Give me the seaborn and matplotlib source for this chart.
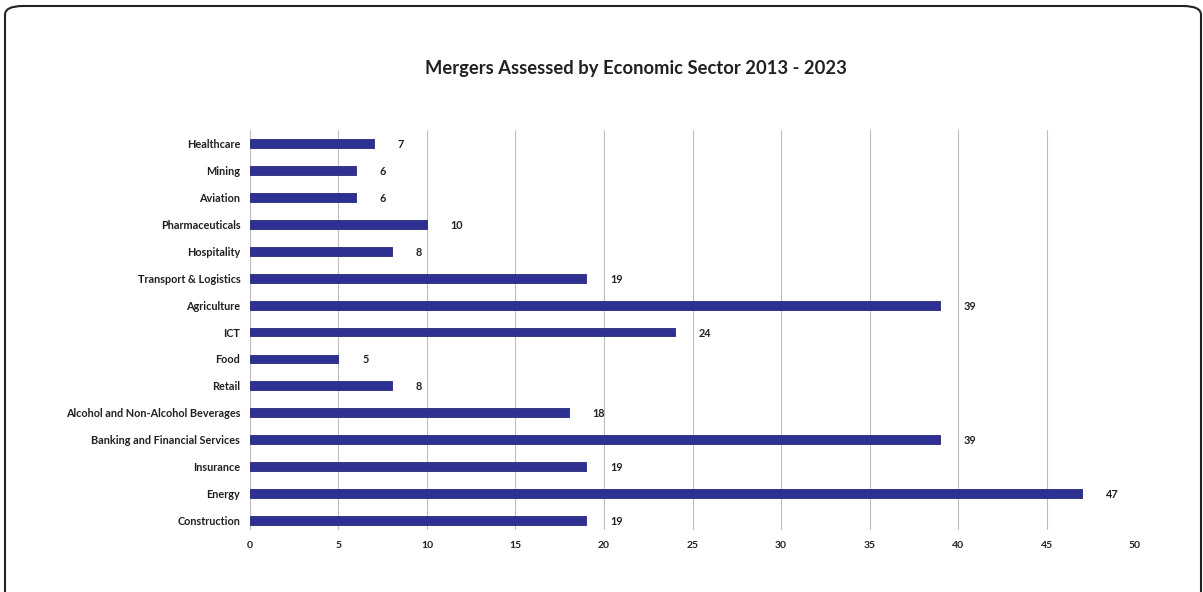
import matplotlib
matplotlib.use("Agg")
import matplotlib.pyplot as plt
from matplotlib.patches import FancyBboxPatch
import seaborn as sns
import pandas as pd

sectors = ["Healthcare", "Mining", "Aviation", "Pharmaceuticals", "Hospitality",
           "Transport & Logistics", "Agriculture", "ICT", "Food", "Retail",
           "Alcohol and Non-Alcohol Beverages", "Banking and Financial Services",
           "Insurance", "Energy", "Construction"]
mergers = [7, 6, 6, 10, 8, 19, 39, 24, 5, 8, 18, 39, 19, 47, 19]
x_ticks = [0, 5, 10, 15, 20, 25, 30, 35, 40, 45, 50]
title = "Mergers Assessed by Economic Sector 2013 - 2023"

df = pd.DataFrame({"Sector": sectors, "Mergers": mergers})

sns.set_style("white")
plt.rcParams["font.family"] = ["Lato", "DejaVu Sans"]

fig = plt.figure(figsize=(12.03, 5.92), dpi=100)
ax = fig.add_axes([0.2078, 0.1047, 0.7357, 0.6757])

sns.barplot(data=df, x="Mergers", y="Sector", orient="h", color="#2E3192",
            width=0.33, saturation=1, ax=ax, order=sectors,
            edgecolor="#252878", linewidth=0.6)

ax.set_xlim(0, 50)
ax.set_ylim(14.35, -0.5)
ax.set_xticks(x_ticks)
ax.set_xticklabels([str(t) for t in x_ticks], fontsize=7.5, fontweight="bold", color="#231f20")
ax.tick_params(axis="y", labelsize=7.8, length=0, pad=7)
ax.tick_params(axis="x", length=0, pad=8)
for lab in ax.get_yticklabels():
    lab.set_fontweight("bold")
    lab.set_color("#231f20")
ax.set_xlabel("")
ax.set_ylabel("")
for s in ax.spines.values():
    s.set_visible(False)
ax.grid(axis="x", color="#bdbdbd", linewidth=0.8)
ax.grid(axis="y", visible=False)
ax.set_axisbelow(True)
fig.canvas.draw()
ax.xaxis.get_gridlines()[-1].set_visible(False)

for cont in ax.containers:
    texts = ax.bar_label(cont, labels=[str(v) for v in mergers], padding=17,
                         fontsize=7.8, fontweight="bold", color="#231f20")
    for t in texts:
        t.set_va("center_baseline")

fig.text(0.5287, 0.885, title, ha="center", va="center", fontsize=13.2,
         fontweight="bold", color="#231f20")

border = FancyBboxPatch((5 / 1203, -0.05), (1196 / 1203), 1.05 - 6 / 592,
                        boxstyle="round,pad=0,rounding_size=0.015",
                        transform=fig.transFigure, fill=False,
                        edgecolor="#222222", linewidth=1.5, clip_on=False)
fig.patches.append(border)

fig.savefig("out.png", dpi=100)
